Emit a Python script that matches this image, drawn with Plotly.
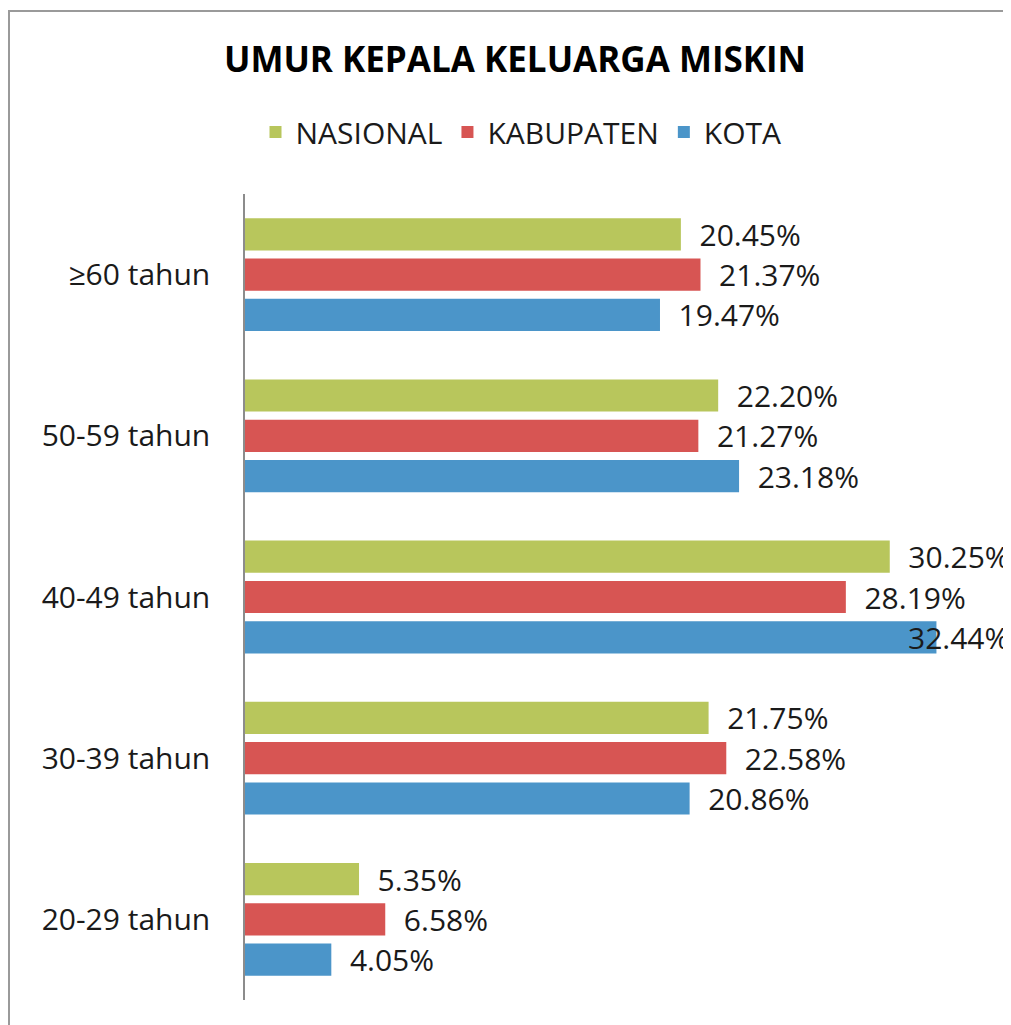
import plotly.graph_objects as go

categories = ["≥60 tahun", "50-59 tahun", "40-49 tahun", "30-39 tahun", "20-29 tahun"]
nasional = [20.45, 22.20, 30.25, 21.75, 5.35]
kabupaten = [21.37, 21.27, 28.19, 22.58, 6.58]
kota = [19.47, 23.18, 32.44, 20.86, 4.05]

series = [
    ("NASIONAL", nasional, "#B8C65C"),
    ("KABUPATEN", kabupaten, "#D75553"),
    ("KOTA", kota, "#4B95C9"),
]

FONT = "Open Sans"
TXT = "#1a1a1a"
LABEL_SIZE = 30

# page has an 8px body margin; work in page pixels and convert
OFF = 8
W, H = 1011 - OFF, 1025 - OFF
PL, PR, PT, PB = 245, 991, 194, 1000  # plot area in page pixels
L, R, T, B = PL - OFF, W - (PR - OFF), PT - OFF, H - (PB - OFF)
pw, ph = W - L - R, H - T - B


def px_x(px):
    return (px - OFF - L) / pw


def px_y(py):
    return (H - B - (py - OFF)) / ph


fig = go.Figure()
overflow = []
for name, vals, color in series:
    positions = []
    for i, v in enumerate(vals):
        if v > 31:
            positions.append("none")
            overflow.append((name, i, v))
        else:
            positions.append("outside")
    fig.add_trace(go.Bar(
        name=name,
        y=categories,
        x=vals,
        orientation="h",
        marker=dict(color=color, line=dict(width=0)),
        text=[f"\u00a0\u00a0{v:.2f}%" for v in vals],
        textposition=positions,
        textfont=dict(family=FONT, size=LABEL_SIZE, color=TXT),
        cliponaxis=False,
        constraintext="none",
    ))

annotations = []
names = [s[0] for s in series]
for name, i, v in overflow:
    k = names.index(name)
    annotations.append(dict(
        x=v, y=categories[i], xref="x", yref="y",
        text=f"{v:.2f}%", showarrow=False,
        xanchor="left", yanchor="middle",
        xshift=-30, yshift=-(k - 1) * 40.4,
        font=dict(family=FONT, size=LABEL_SIZE, color=TXT),
    ))

fig.update_layout(
    width=W, height=H,
    margin=dict(l=L, r=R, t=T, b=B),
    paper_bgcolor="white",
    plot_bgcolor="white",
    barmode="group",
    bargap=0.25,
    bargroupgap=0.2,
    font=dict(family=FONT, color=TXT),
    title=dict(
        text="<b>UMUR KEPALA KELUARGA MISKIN</b>",
        font=dict(family=FONT, size=35, color="black"),
        x=(515 - OFF) / W, xanchor="center", xref="container",
        y=1 - (60 - OFF) / H, yanchor="middle", yref="container",
    ),
    legend=dict(
        orientation="h",
        x=px_x(521), xanchor="center",
        y=px_y(132), yanchor="middle",
        font=dict(family=FONT, size=30, color=TXT),
        itemwidth=30,
        traceorder="normal",
    ),
    showlegend=True,
    xaxis=dict(
        range=[0, 35],
        showgrid=False, zeroline=False, showline=False,
        showticklabels=False, ticks="",
    ),
    yaxis=dict(
        autorange="reversed",
        categoryorder="array", categoryarray=categories,
        showgrid=False, zeroline=False,
        showline=True, linecolor="#8c8c8c", linewidth=1.5,
        ticks="", ticklabelstandoff=27,
        tickfont=dict(family=FONT, size=LABEL_SIZE, color=TXT),
    ),
    annotations=annotations,
    shapes=[dict(
        type="rect", xref="paper", yref="paper",
        x0=px_x(9), x1=px_x(1008),
        y0=px_y(1040), y1=px_y(11),
        line=dict(color="#9a9a9a", width=2), fillcolor="rgba(0,0,0,0)",
        layer="below",
    )],
)

fig.write_html("out.html")
